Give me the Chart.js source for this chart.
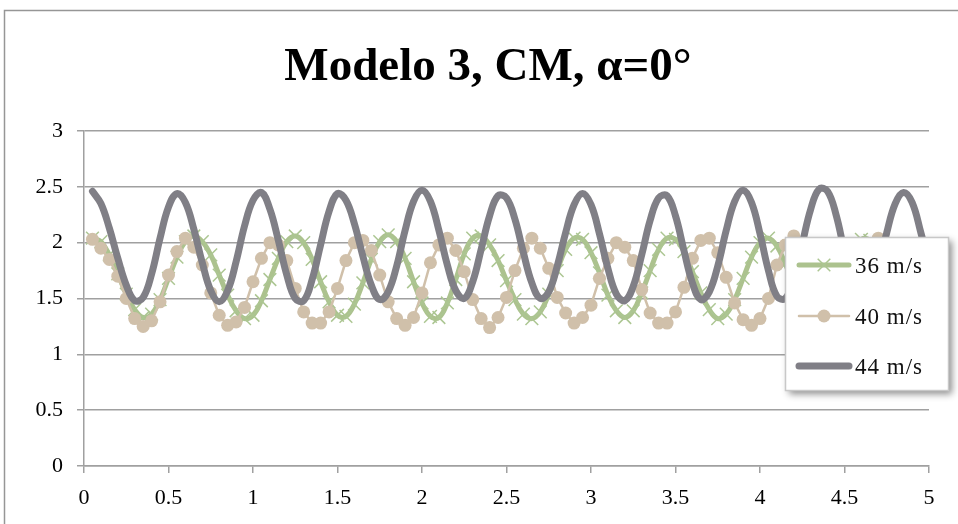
<!DOCTYPE html>
<html><head><meta charset="utf-8">
<script src="https://cdn.jsdelivr.net/npm/chart.js@4.4.0/dist/chart.umd.min.js"></script>
<style>html,body{margin:0;padding:0;background:#fff;} canvas{display:block;}</style>
</head><body>
<canvas id="c" width="958" height="524"></canvas>
<script>
const chartTitle = 'Modelo 3, CM, α=0°';
const seriesLabels = ['36 m/s', '40 m/s', '44 m/s'];
const xTickValues = [0, 0.5, 1, 1.5, 2, 2.5, 3, 3.5, 4, 4.5, 5];
const yTickValues = [0, 0.5, 1, 1.5, 2, 2.5, 3];

const time = [0.05,0.10,0.15,0.20,0.25,0.30,0.35,0.40,0.45,0.50,
  0.55,0.60,0.65,0.70,0.75,0.80,0.85,0.90,0.95,1.00,
  1.05,1.10,1.15,1.20,1.25,1.30,1.35,1.40,1.45,1.50,
  1.55,1.60,1.65,1.70,1.75,1.80,1.85,1.90,1.95,2.00,
  2.05,2.10,2.15,2.20,2.25,2.30,2.35,2.40,2.45,2.50,
  2.55,2.60,2.65,2.70,2.75,2.80,2.85,2.90,2.95,3.00,
  3.05,3.10,3.15,3.20,3.25,3.30,3.35,3.40,3.45,3.50,
  3.55,3.60,3.65,3.70,3.75,3.80,3.85,3.90,3.95,4.00,
  4.05,4.10,4.15,4.20,4.25,4.30,4.35,4.40,4.45,4.50,
  4.55,4.60,4.65,4.70,4.75,4.80,4.85,4.90,4.95,5.00];

const v36 = [2.04,2.01,1.89,1.72,1.54,1.40,1.33,1.36,1.49,1.68,
  1.87,2.01,2.06,2.01,1.89,1.71,1.53,1.39,1.32,1.35,
  1.48,1.67,1.86,2.01,2.06,2.00,1.85,1.65,1.47,1.35,
  1.34,1.45,1.64,1.85,2.01,2.07,2.01,1.86,1.65,1.46,
  1.34,1.33,1.46,1.67,1.90,2.04,2.06,1.98,1.84,1.66,
  1.49,1.36,1.32,1.38,1.54,1.75,1.94,2.04,2.03,1.91,
  1.73,1.53,1.39,1.33,1.39,1.55,1.75,1.94,2.04,2.03,
  1.92,1.74,1.55,1.40,1.32,1.36,1.49,1.68,1.87,2.00,
  2.04,1.97,1.81,1.62,1.45,1.34,1.33,1.42,1.58,1.78,
  1.94,2.03,2.02,1.90,1.72,1.52,1.38,1.32,1.36,1.48];

const v40 = [2.03,1.95,1.85,1.70,1.50,1.32,1.25,1.30,1.47,1.71,
  1.92,2.04,1.96,1.80,1.55,1.35,1.26,1.29,1.42,1.65,
  1.86,2.00,1.98,1.84,1.59,1.38,1.28,1.28,1.38,1.59,
  1.84,2.00,2.02,1.93,1.71,1.47,1.32,1.26,1.33,1.55,
  1.82,1.98,2.04,1.93,1.74,1.49,1.32,1.24,1.33,1.51,
  1.75,1.95,2.04,1.95,1.77,1.51,1.37,1.28,1.33,1.44,
  1.68,1.86,2.00,1.96,1.84,1.58,1.37,1.28,1.28,1.38,
  1.60,1.86,2.02,2.04,1.91,1.69,1.46,1.31,1.26,1.32,
  1.50,1.80,1.98,2.06,1.98,1.80,1.55,1.35,1.26,1.30,
  1.48,1.74,1.95,2.04,1.97,1.78,1.52,1.34,1.26,1.30];

const v44 = [2.46,2.35,2.13,1.86,1.62,1.48,1.51,1.72,2.04,2.32,
  2.44,2.36,2.12,1.82,1.57,1.47,1.57,1.83,2.15,2.38,
  2.45,2.30,2.02,1.71,1.50,1.48,1.67,1.98,2.28,2.44,
  2.38,2.17,1.88,1.62,1.49,1.56,1.79,2.11,2.37,2.47,
  2.37,2.11,1.80,1.57,1.50,1.65,1.94,2.24,2.42,2.40,
  2.21,1.91,1.64,1.50,1.56,1.79,2.09,2.34,2.44,2.34,
  2.08,1.77,1.54,1.48,1.61,1.89,2.20,2.40,2.42,2.24,
  1.93,1.64,1.49,1.56,1.79,2.11,2.37,2.47,2.36,2.08,
  1.75,1.52,1.50,1.68,1.99,2.30,2.48,2.46,2.25,1.92,
  1.63,1.48,1.55,1.78,2.09,2.35,2.45,2.36,2.10,1.80];

const pts = (vals) => time.map((t, i) => ({x: t, y: vals[i]}));

const GREEN = 'rgb(172,194,142)';
const GREEN_MARK = 'rgb(172,198,146)';
const BEIGE = 'rgb(208,192,170)';
const GRAY = 'rgb(128,127,134)';
const GRID = 'rgb(160,160,160)';
const FONT = '"Liberation Serif", "DejaVu Serif", serif';

const framePlugin = {
  id: 'frame',
  beforeDraw(chart) {
    const ctx = chart.ctx;
    ctx.save();
    ctx.fillStyle = '#fff';
    ctx.fillRect(0, 0, chart.width, chart.height);
    ctx.strokeStyle = 'rgb(150,150,150)';
    ctx.lineWidth = 1.5;
    ctx.beginPath();
    ctx.moveTo(4.5, chart.height);
    ctx.lineTo(4.5, 10.5);
    ctx.lineTo(chart.width, 10.5);
    ctx.stroke();
    ctx.fillStyle = '#000';
    ctx.font = 'bold 47px ' + FONT;
    ctx.textAlign = 'center';
    ctx.textBaseline = 'middle';
    ctx.fillText(chartTitle, 488, 68);
    ctx.restore();
  }
};

const legendPlugin = {
  id: 'customLegend',
  afterDraw(chart) {
    const ctx = chart.ctx;
    const bx = 785, by = 237, bw = 163, bh = 153;
    ctx.save();
    ctx.shadowColor = 'rgba(0,0,0,0.45)';
    ctx.shadowBlur = 7;
    ctx.shadowOffsetX = 4;
    ctx.shadowOffsetY = 4;
    ctx.fillStyle = '#fff';
    ctx.fillRect(bx, by, bw, bh);
    ctx.restore();
    ctx.save();
    ctx.strokeStyle = 'rgb(200,200,200)';
    ctx.lineWidth = 1.5;
    ctx.strokeRect(bx + 0.5, by + 0.5, bw, bh);
    const rows = [265, 316, 366];
    chart.data.datasets.forEach((ds, i) => {
      const y = rows[i];
      ctx.save();
      ctx.strokeStyle = ds.borderColor;
      ctx.lineWidth = ds.borderWidth;
      ctx.lineCap = 'round';
      ctx.beginPath();
      ctx.moveTo(799, y);
      ctx.lineTo(849, y);
      ctx.stroke();
      if (ds.pointRadius > 0) {
        ctx.fillStyle = ds.pointBackgroundColor;
        ctx.strokeStyle = ds.pointBorderColor;
        ctx.lineWidth = ds.pointBorderWidth;
        ctx.lineCap = 'butt';
        ctx.beginPath();
        const r = ds.pointRadius;
        if (ds.pointStyle === 'circle') {
          ctx.arc(824, y, r, 0, Math.PI * 2);
          ctx.fill();
        } else {
          ctx.moveTo(824 - r * 0.7, y - r * 0.7); ctx.lineTo(824 + r * 0.7, y + r * 0.7);
          ctx.moveTo(824 - r * 0.7, y + r * 0.7); ctx.lineTo(824 + r * 0.7, y - r * 0.7);
          ctx.stroke();
        }
      }
      ctx.restore();
      ctx.fillStyle = '#111';
      ctx.font = '23px ' + FONT;
      try { ctx.letterSpacing = '1px'; } catch (e) {}
      ctx.textAlign = 'left';
      ctx.textBaseline = 'middle';
      ctx.fillText(ds.label, 855, y + 2);
    });
    ctx.restore();
  }
};

new Chart(document.getElementById('c'), {
  type: 'line',
  data: {
    datasets: [
      { label: seriesLabels[0], data: pts(v36), borderColor: GREEN, backgroundColor: GREEN,
        borderWidth: 5, tension: 0.4, pointStyle: 'crossRot', pointRadius: 9,
        pointBorderWidth: 1.5, pointBorderColor: GREEN_MARK, pointBackgroundColor: GREEN, order: 3 },
      { label: seriesLabels[1], data: pts(v40), borderColor: BEIGE, backgroundColor: BEIGE,
        borderWidth: 2.5, tension: 0, pointStyle: 'circle', pointRadius: 6.5,
        pointBorderWidth: 0, pointBorderColor: BEIGE, pointBackgroundColor: BEIGE, order: 2 },
      { label: seriesLabels[2], data: pts(v44), borderColor: GRAY, backgroundColor: GRAY,
        borderWidth: 7, tension: 0.4, pointRadius: 0, borderCapStyle: 'round', borderJoinStyle: 'round', order: 1 }
    ]
  },
  options: {
    responsive: false,
    devicePixelRatio: 1,
    animation: false,
    layout: { padding: { top: 131, right: 29, bottom: 0, left: 0 } },
    plugins: { legend: { display: false }, title: { display: false }, tooltip: { enabled: false } },
    scales: {
      x: {
        type: 'linear', min: 0, max: 5,
        afterBuildTicks: s => { s.ticks = xTickValues.map(v => ({ value: v })); },
        afterFit: s => { s.height = 58; },
        grid: { drawOnChartArea: false, drawTicks: true, tickLength: 7, color: GRID, lineWidth: 1.5 },
        border: { display: true, color: GRID, width: 1.5 },
        ticks: { color: '#000', font: { family: FONT, size: 22 }, padding: 12, maxRotation: 0, autoSkip: false,
          callback: v => String(v) }
      },
      y: {
        min: 0, max: 3,
        afterBuildTicks: s => { s.ticks = yTickValues.map(v => ({ value: v })); },
        afterFit: s => { s.width = 84; },
        grid: { drawOnChartArea: true, drawTicks: true, tickLength: 7, color: GRID, lineWidth: 1.5 },
        border: { display: true, color: GRID, width: 1.5 },
        ticks: { color: '#000', font: { family: FONT, size: 22 }, padding: 14, callback: v => String(v) }
      }
    }
  },
  plugins: [framePlugin, legendPlugin]
});
</script>
</body></html>
